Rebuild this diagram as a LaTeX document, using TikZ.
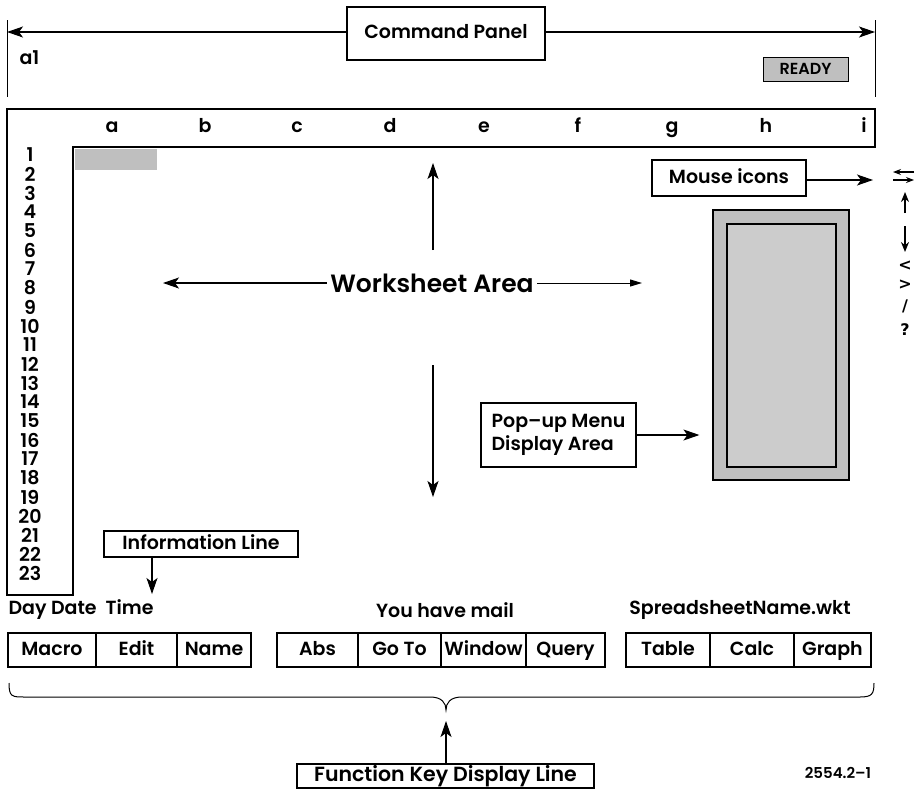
\documentclass[tikz,border=0pt]{standalone}
\usepackage{fontspec}
\setmainfont{Poppins}[BoldFont={* SemiBold}]
\newfontfamily\iconfont{DejaVu Sans}
\usetikzlibrary{arrows.meta,positioning,calc}

\tikzset{
  every node/.style={font=\bfseries\fontsize{19}{21}\selectfont},
  lblbox/.style={draw,line width=1.3pt,inner sep=0pt,text height=14,text depth=4},
  fkey/.style={draw,line width=1.3pt,inner sep=0pt,minimum height=34,text height=14,text depth=4},
  shadebox/.style={draw,line width=1.2pt,fill=gray!50},
  pointer/.style={line width=1.1pt,-{Stealth[length=16pt,width=11pt,inset=4pt]}},
}

\begin{document}
\begin{tikzpicture}[x=1pt,y=-1pt]
  \useasboundingbox (0,0) rectangle (916,788);
  % command panel
  \node[lblbox,minimum width=198,minimum height=53] (cmd) at (446,33.5) {Command Panel};
  \coordinate (cmdL) at (7,32);
  \coordinate (cmdR) at (875,32);
  \draw[line width=1pt] (7,20) -- (7,97);
  \draw[line width=1pt] (875,20) -- (875,97);
  \draw[pointer] (cmd.west |- cmdL) -- (cmdL);
  \draw[pointer] (cmd.east |- cmdR) -- (cmdR);
  \node[anchor=west] (cell) at (16,58) {a1};
  \node[shadebox,line width=0.8pt,minimum width=85,minimum height=24,inner sep=0pt,
        font=\bfseries\fontsize{16}{18}\selectfont] (ready) at (805.5,69) {READY};
  % worksheet frame
  \draw[line width=1.8pt] (7,109) -- (875,109) -- (875,147) -- (73,147) -- (73,595) -- (7,595) -- cycle;
  \foreach \col/\cx in {a/112,b/205,c/297,d/390,e/484,f/578,g/672,h/766,i/864}
    \node[text height=12,text depth=4] (col\col) at (\cx,128) {\col};
  \foreach \r in {1,...,23}
    \node[inner sep=0pt] (row\r) at (30,{155+(\r-1)*19}) {\r};
  \fill[gray!50] (75,149) rectangle (157,170);
  % worksheet area
  \node[font=\bfseries\fontsize{25}{28}\selectfont] (ws) at (432,283) {Worksheet Area};
  \coordinate (wsL) at (163,283);
  \coordinate (wsR) at (642,283);
  \coordinate (wsT) at (433,163);
  \coordinate (wsB) at (433,497);
  \draw[pointer] (ws.west) -- (wsL);
  \draw[line width=1pt,-{Triangle[length=12pt,width=7pt]}] (ws.east) -- (wsR);
  \draw[pointer] (433,250) -- (wsT);
  \draw[pointer] (433,365) -- (wsB);
  % mouse icons
  \node[lblbox,minimum width=154,minimum height=36] (mouse) at (729,178) {Mouse icons};
  \coordinate (mouseT) at (873,180);
  \draw[pointer] (mouse.east |- mouseT) -- (mouseT);
  \draw[line width=1.2pt,-{Stealth[length=8pt,width=6pt]}] (914,172) -- (893,172);
  \draw[line width=1.2pt,-{Stealth[length=8pt,width=6pt]}] (893,180) -- (914,180);
  \draw[line width=1.8pt,-{Stealth[length=10pt,width=8pt]}] (905,213) -- (905,192);
  \draw[line width=1.8pt,-{Stealth[length=10pt,width=8pt]}] (905,226) -- (905,252);
  \foreach \sym/\sy in {{<}/266,{>}/285,{/}/306,{?}/330}
    \node[font=\iconfont\bfseries\fontsize{16}{18}\selectfont,inner sep=0pt] at (905,\sy) {\sym};
  % pop-up menu
  \node[shadebox,minimum width=136,minimum height=270] (popup) at (781,345) {};
  \node[shadebox,fill=gray!40,minimum width=109,minimum height=243] (popin) at (781.5,345.5) {};
  \node[draw,line width=1.3pt,inner sep=3pt,minimum width=155,minimum height=64,align=left] (popmenu) at (558.5,435)
    {Pop--up Menu\\[2pt]Display Area};
  \draw[pointer,shorten >=13pt] (popmenu.east) -- (popup.west |- popmenu.east);
  % information line
  \node[lblbox,minimum width=194,minimum height=26] (info) at (201,544) {Information Line};
  \node[anchor=west] (daytime) at (5,610) {Day Date\ \ Time};
  \node (mail) at (445,610) {You have mail};
  \node (sheet) at (740,610) {SpreadsheetName.wkt};
  \draw[pointer] (info.south -| 152,0) -- (152,594);
  % function keys
  \foreach \lbl/\cx/\w in {Macro/52/88,Edit/136.5/81,Name/214/74,Abs/317.5/81,Go To/399.5/83,
      Window/483.5/85,Query/565.5/79,Table/668/84,Calc/752/84,Graph/832.5/77}
    \node[fkey,minimum width=\w] (key\cx) at (\cx,650) {\lbl};
  % brace
  \draw[line width=1pt] (9,683) .. controls (9,697) and (12,697) .. (25,697) -- (430,697)
    .. controls (442,697) and (446,703) .. (446,710)
    .. controls (446,703) and (450,697) .. (462,697) -- (860,697)
    .. controls (872,697) and (874,694) .. (874,683);
  \coordinate (brace) at (446,721);
  \node[lblbox,minimum width=297,minimum height=24,font=\bfseries\fontsize{20.5}{23}\selectfont] (fkd) at (445.5,776) {Function Key Display Line};
  \draw[pointer] (fkd.north -| brace) -- (brace);
  \node[font=\bfseries\fontsize{15}{17}\selectfont] (fig) at (838,773) {2554.2--1};
\end{tikzpicture}
\end{document}
